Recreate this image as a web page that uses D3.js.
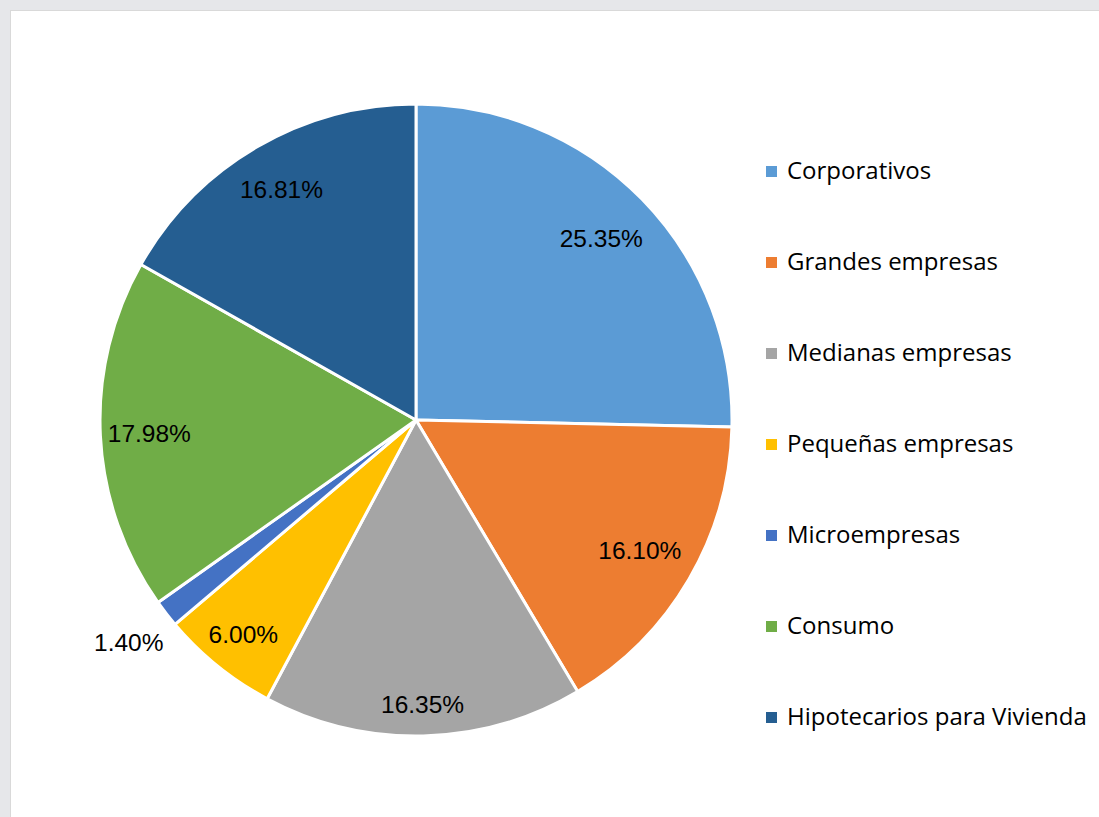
<!DOCTYPE html>
<html>
<head>
<meta charset="utf-8">
<script src="https://cdn.jsdelivr.net/npm/d3@7"></script>
<style>
  html,body{margin:0;padding:0;background:#e9e9eb;}
  svg{display:block;}
</style>
</head>
<body>
<div id="chart"></div>
<script>
// cartera por tipo de crédito — pie con leyenda a la derecha
const categories = ['Corporativos','Grandes empresas','Medianas empresas','Pequeñas empresas','Microempresas','Consumo','Hipotecarios para Vivienda'];
const shares = [25.35, 16.10, 16.35, 6.00, 1.40, 17.98, 16.81];
const colors = ['#5b9bd5','#ed7d31','#a5a5a5','#ffc000','#4472c4','#70ad47','#255e91'];
// label distance from centre, as a fraction of the radius (Excel "best fit")
const labelPos = [0.82, 0.82, 0.90, 0.87, 1.15, 0.845, 0.845];

const W = 1099, H = 817;
const cx = 416, cy = 420, R = 316;

const svg = d3.select('#chart').append('svg').attr('width', W).attr('height', H);

// faded backdrop strip + white chart panel
svg.append('rect').attr('x',0).attr('y',0).attr('width',W).attr('height',H).attr('fill','#e6e7ea');
svg.append('rect').attr('x',10.5).attr('y',10.5).attr('width',W).attr('height',H)
  .attr('fill','#fff').attr('stroke','#d9d9d9').attr('stroke-width',1);

const data = categories.map((c,i)=>({cat:c, v:shares[i], col:colors[i], lp:labelPos[i]}));
const pie = d3.pie().value(d=>d.v).sort(null);
const arc = d3.arc().innerRadius(0).outerRadius(R);
const arcs = pie(data);

const g = svg.append('g').attr('transform',`translate(${cx},${cy})`);
g.selectAll('path').data(arcs).join('path')
  .attr('d', arc).attr('fill', d=>d.data.col)
  .attr('stroke','#fff').attr('stroke-width',3).attr('stroke-linejoin','round');

g.selectAll('text.lbl').data(arcs).join('text')
  .attr('class','lbl')
  .attr('transform', d=>{
    const a = (d.startAngle+d.endAngle)/2, r = R*d.data.lp;
    return `translate(${Math.sin(a)*r},${-Math.cos(a)*r})`;
  })
  .attr('text-anchor','middle').attr('dy','0.35em')
  .attr('font-family','"Liberation Sans", Arial, sans-serif').attr('font-size',24.5)
  .attr('fill','#000')
  .text(d=>d.data.v.toFixed(2)+'%');

// legend
const ly = d3.scalePoint().domain(categories).range([171, 717]);
const lg = svg.append('g');
const item = lg.selectAll('g').data(data).join('g')
  .attr('transform', d=>`translate(766,${ly(d.cat)})`);
item.append('rect').attr('x',0).attr('y',-5).attr('width',11).attr('height',11).attr('fill',d=>d.col);
item.append('text').attr('x',21).attr('dy','0.35em')
  .attr('font-family','"Open Sans", "Noto Sans", sans-serif').attr('font-size',24)
  .attr('fill','#000').text(d=>d.cat);
</script>
</body>
</html>
